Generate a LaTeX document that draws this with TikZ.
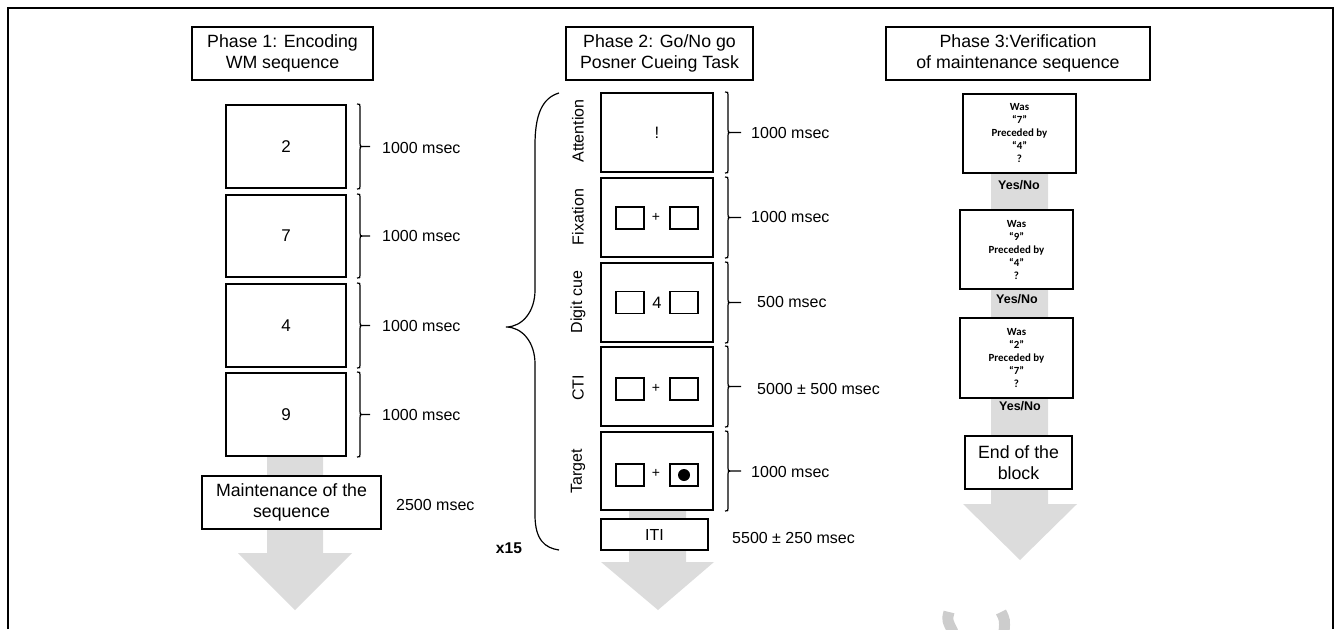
\documentclass[tikz,border=0pt]{standalone}
\usepackage{fontspec}
\setmainfont{Liberation Sans}
\newfontfamily\qfont{Carlito}
\usetikzlibrary{calc,backgrounds}
\definecolor{arrowgray}{RGB}{220,220,220}
\definecolor{markgray}{RGB}{205,205,205}
\newcommand\rbr[3]{%
  \draw[brc] let \p1=($(#1.north east)+(#2pt,0pt)$), \p2=($(#1.south east)+(#2pt,0pt)$), \n1={(\y1+\y2)/2} in
  (\x1,\y1) .. controls (\x1+3pt,\y1) .. (\x1+3pt,\y1-3pt) -- (\x1+3pt,\n1+3pt)
  .. controls (\x1+3pt,\n1) .. (\x1+6pt,\n1) -- (\x1+#3pt,\n1)
  (\x1+6pt,\n1) .. controls (\x1+3pt,\n1) .. (\x1+3pt,\n1-3pt) -- (\x1+3pt,\y2+3pt)
  .. controls (\x1+3pt,\y2) .. (\x1,\y2);}
\begin{document}
\begin{tikzpicture}[x=1pt,y=-1pt,
  title/.style={draw,line width=1.2pt,fill=white,inner sep=0pt,align=center,font=\fontsize{17.75}{21}\selectfont},
  stimA/.style={draw,line width=2pt,fill=white,inner sep=0pt,minimum width=120pt,minimum height=83pt,font=\fontsize{17}{20}\selectfont},
  stimB/.style={draw,line width=2pt,fill=white,inner sep=0pt,minimum width=112pt,minimum height=79pt,font=\fontsize{16.5}{20}\selectfont},
  sq/.style={draw,line width=1.5pt,inner sep=0pt,minimum width=28pt,minimum height=22pt},
  plus/.style={inner sep=0pt,font=\fontsize{14}{16}\selectfont},
  tlabel/.style={anchor=west,inner sep=0pt,font=\fontsize{16}{19}\selectfont},
  rlabel/.style={rotate=90,inner sep=0pt,font=\fontsize{16}{19}\selectfont},
  qbox/.style={draw,line width=2.2pt,fill=white,inner sep=0pt,minimum width=113pt,minimum height=79pt,align=center,font=\qfont\bfseries\fontsize{10.9}{13}\selectfont},
  yn/.style={inner sep=0pt,font=\bfseries\fontsize{12.5}{15}\selectfont},
  brc/.style={line width=1.2pt},
  bigbrc/.style={line width=1.2pt}
]
\useasboundingbox (0,0) rectangle (1335,629);
% frame
\draw[line width=2pt] (7.5,629) -- (7.5,7.5) -- (1333,7.5) -- (1333,629);

% ---------- Phase 1 ----------
\node[title,minimum width=181pt,minimum height=53pt] (t1) at (282.5,53.5) {Phase 1: Encoding\\WM sequence};
\node[stimA] (s2) at (286,146.5) {2};
\node[stimA,minimum height=82pt] (s7) at (286,236) {7};
\node[stimA] (s4) at (286,325.5) {4};
\node[stimA] (s9) at (286,414.5) {9};
\node[title,minimum width=179pt,minimum height=53pt] (m) at (291.5,502.5) {Maintenance of the\\sequence};
\node[tlabel] (l2) at (382,148) {1000 msec};
\node[tlabel] (l7) at (382,236) {1000 msec};
\node[tlabel] (l4) at (382,326) {1000 msec};
\node[tlabel] (l9) at (382,415) {1000 msec};
\node[tlabel] (lm) at (396,505) {2500 msec};
\rbr{s2}{10}{13}
\rbr{s7}{10}{13}
\rbr{s4}{10}{13}
\rbr{s9}{10}{13}

% ---------- Phase 2 ----------
\node[title,minimum width=187pt,minimum height=53pt] (t2) at (659.5,53.5) {Phase 2: Go/No go\\Posner Cueing Task};
\node[stimB] (att) at (657,132.5) {!};
\node[stimB] (fix) at (657,217.5) {};
\node[stimB] (dig) at (657,302.5) {};
\node[stimB] (cti) at (657,386.5) {};
\node[stimB,minimum height=78pt] (tar) at (657,471) {};
\node[sq] (fixL) at (630,218) {};
\node[sq] (fixR) at (684,218) {};
\node[plus] (fixP) at (656,217.5) {+};
\node[sq] (digL) at (630,302.5) {};
\node[sq] (digR) at (684,302.5) {};
\node[inner sep=0pt,font=\fontsize{16.5}{20}\selectfont] (digN) at (657,302.5) {4};
\node[sq] (ctiL) at (630,389) {};
\node[sq] (ctiR) at (684,389) {};
\node[plus] (ctiP) at (656,388) {+};
\node[sq] (tarL) at (630,475) {};
\node[sq] (tarR) at (684,475) {};
\node[plus] (tarP) at (656,473) {+};
\fill (tarR.center) circle (6);
\node[title,line width=1.2pt,minimum width=107pt,minimum height=31pt,font=\fontsize{16}{19}\selectfont] (iti) at (654.5,534.5) {ITI};
\node[rlabel] (ra) at (578,131) {Attention};
\node[rlabel] (rf) at (578,217) {Fixation};
\node[rlabel] (rd) at (578,302) {Digit cue};
\node[rlabel] (rc) at (578,388) {CTI};
\node[rlabel] (rt) at (578,471) {Target};
\node[tlabel] (la) at (751,133) {1000 msec};
\node[tlabel] (lf) at (751,217) {1000 msec};
\node[tlabel] (ld) at (757,302) {500 msec};
\node[tlabel] (lc) at (757,389) {5000 ± 500 msec};
\node[tlabel] (lt) at (751,472) {1000 msec};
\node[tlabel] (li) at (732,538) {5500 ± 250 msec};
\rbr{att}{11}{16}
\rbr{fix}{11}{16}
\rbr{dig}{11}{16}
\rbr{cti}{11}{16}
\rbr{tar}{11}{16}
\coordinate (bt) at (559,93);
\coordinate (bb) at (559,550);
\coordinate (btip) at (506,327);
\draw[bigbrc] (bt) .. controls (542,98) and (535,115) .. (535,145) -- (535,290)
  .. controls (535,312) and (522,327) .. (btip)
  .. controls (522,327) and (535,342) .. (535,364) -- (535,515)
  .. controls (535,540) and (545,548) .. (bb);
\node[inner sep=0pt,font=\bfseries\fontsize{15.6}{18}\selectfont] (x15) at (509,548) {x15};

% ---------- Phase 3 ----------
\node[title,minimum width=264pt,minimum height=53pt] (t3) at (1018,53.5) {Phase 3:Verification\\of maintenance sequence};
\node[qbox] (q1) at (1019.5,133.5) {Was\\“7”\\Preceded by\\“4”\\?};
\node[qbox] (q2) at (1016.5,249.5) {Was\\“9”\\Preceded by\\“4”\\?};
\node[qbox,minimum height=80pt] (q3) at (1016.5,358) {Was\\“2”\\Preceded by\\“7”\\?};
\node[yn] (y1) at (1019,185) {Yes/No};
\node[yn] (y2) at (1017,299) {Yes/No};
\node[yn] (y3) at (1020,406) {Yes/No};
\node[title,line width=1.5pt,minimum width=107pt,minimum height=53pt] (end) at (1018.5,462.5) {End of the\\block};

% ---------- gray arrows ----------
\begin{scope}[on background layer]
\fill[arrowgray] (267,456) -- (323,456) -- (323,553) -- (352,553) -- (295,610) -- (238,553) -- (267,553) -- cycle;
\fill[arrowgray] (629,510) -- (686,510) -- (686,562) -- (714,562) -- (658,610) -- (601,562) -- (629,562) -- cycle;
\fill[arrowgray] (991,173) -- (1048,173) -- (1048,504) -- (1077,504) -- (1020,560) -- (963,504) -- (991,504) -- cycle;
\end{scope}
% faint mark at the bottom
\draw[markgray,line width=11pt] (949,612) .. controls (947,620) .. (953,632);
\draw[markgray,line width=11pt] (1001,612) .. controls (1005,620) .. (1004,632);
\end{tikzpicture}
\end{document}
